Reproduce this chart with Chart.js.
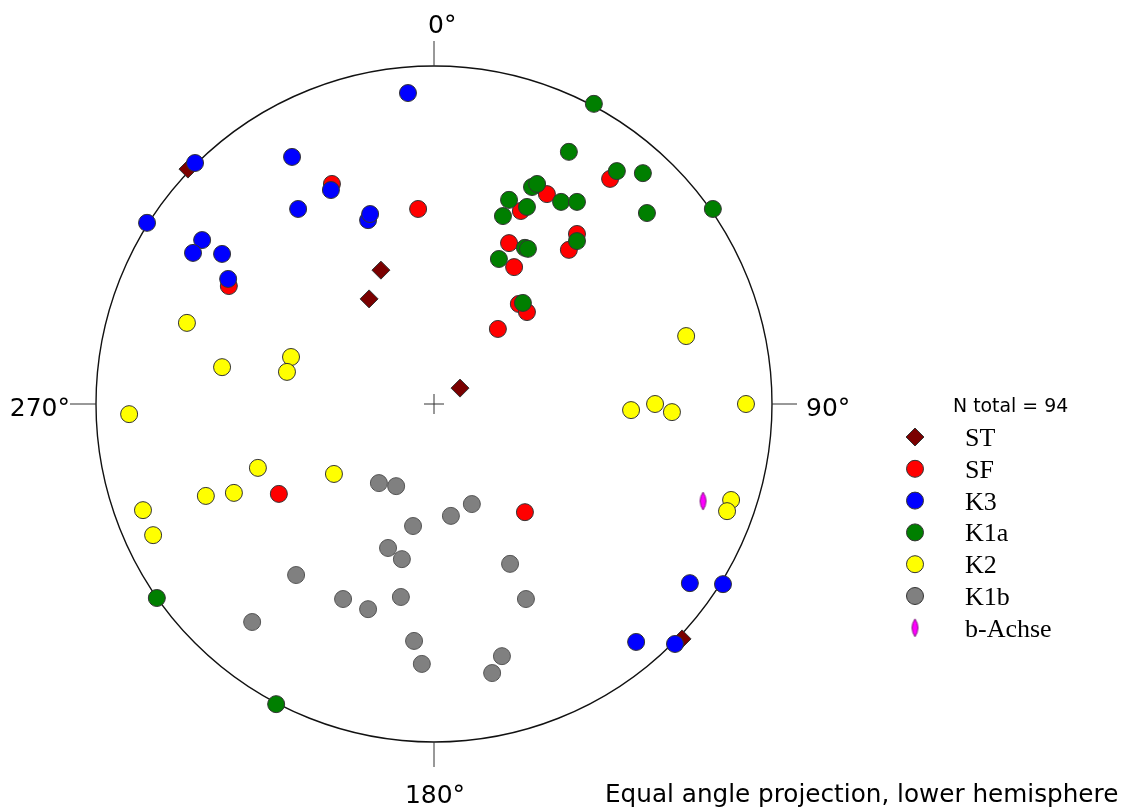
<!DOCTYPE html>
<html>
<head>
<meta charset="utf-8">
<script src="https://cdn.jsdelivr.net/npm/chart.js@4/dist/chart.umd.min.js"></script>
<style>
  html, body { margin: 0; padding: 0; background: #fff; }
  #wrap { width: 1132px; height: 808px; position: relative; }
</style>
</head>
<body>
<div id="wrap"><canvas id="net"></canvas></div>
<script>
// poles in unit-circle coordinates (primitive circle radius = 1, north up)
const seriesNames = ['ST', 'SF', 'K3', 'K1a', 'K2', 'K1b', 'b-Achse'];

const stPoints = [[-0.728, 0.695], [-0.157, 0.396], [-0.192, 0.311], [0.077, 0.047], [0.734, -0.695]];
const sfPoints = [
  [-0.302, 0.651], [-0.047, 0.577], [-0.607, 0.349], [0.521, 0.666], [0.334, 0.621],
  [0.257, 0.571], [0.423, 0.503], [0.399, 0.456], [0.222, 0.476], [0.237, 0.405],
  [0.251, 0.296], [0.275, 0.272], [0.189, 0.222], [-0.459, -0.266], [0.269, -0.320]
];
const k3Points = [
  [-0.077, 0.920], [-0.707, 0.713], [-0.849, 0.536], [-0.420, 0.731], [-0.305, 0.633],
  [-0.402, 0.577], [-0.195, 0.544], [-0.189, 0.562], [-0.686, 0.485], [-0.713, 0.447],
  [-0.627, 0.444], [-0.609, 0.370], [0.757, -0.530], [0.855, -0.533], [0.598, -0.704],
  [0.713, -0.710]
];
const k1aPoints = [
  [0.473, 0.888], [0.399, 0.746], [0.541, 0.689], [0.618, 0.683], [0.825, 0.577],
  [0.630, 0.565], [0.290, 0.642], [0.305, 0.651], [0.376, 0.598], [0.423, 0.598],
  [0.222, 0.604], [0.275, 0.583], [0.204, 0.556], [0.423, 0.482], [0.269, 0.462],
  [0.278, 0.459], [0.192, 0.429], [0.263, 0.299], [-0.820, -0.574], [-0.467, -0.888]
];
const k2Points = [
  [-0.731, 0.240], [-0.627, 0.109], [-0.423, 0.139], [-0.435, 0.095], [-0.902, -0.030],
  [-0.521, -0.189], [-0.296, -0.207], [-0.675, -0.272], [-0.592, -0.263], [-0.861, -0.314],
  [-0.831, -0.388], [0.746, 0.201], [0.583, -0.018], [0.654, 0.000], [0.704, -0.024],
  [0.923, 0.000], [0.879, -0.284], [0.867, -0.317]
];
const k1bPoints = [
  [-0.163, -0.234], [-0.112, -0.243], [-0.062, -0.361], [-0.136, -0.426], [-0.095, -0.459],
  [-0.408, -0.506], [-0.269, -0.577], [-0.098, -0.571], [0.050, -0.331], [0.112, -0.296],
  [0.225, -0.473], [0.272, -0.577], [-0.538, -0.645], [-0.195, -0.607], [-0.059, -0.701],
  [-0.036, -0.769], [0.201, -0.746], [0.172, -0.796]
];
const bAxisPoints = [[0.796, -0.287]];

const nTotal = 94;
const dirLabels = ['0°', '90°', '180°', '270°'];

const fills = ['#7a0000', '#ff0000', '#0000ff', '#007f00', '#ffff00', '#808080', '#ff00ff'];

// lens shaped marker for the b-axis
const lens = document.createElement('canvas');
lens.width = 11; lens.height = 20;
(function () {
  const c = lens.getContext('2d');
  c.beginPath();
  c.moveTo(5.5, 1);
  c.quadraticCurveTo(11.5, 10, 5.5, 19);
  c.quadraticCurveTo(-0.5, 10, 5.5, 1);
  c.fillStyle = '#ff00ff';
  c.fill();
  c.strokeStyle = '#600060';
  c.lineWidth = 0.8;
  c.stroke();
})();

const allPoints = [stPoints, sfPoints, k3Points, k1aPoints, k2Points, k1bPoints, bAxisPoints];
const styles = ['rectRot', 'circle', 'circle', 'circle', 'circle', 'circle', lens];
const radii = [9, 8.5, 8.5, 8.5, 8.5, 8.5, 9];
const drawOrder = [7, 6, 5, 4, 3, 2, 1];

function fitFont(ctx, text, width, family) {
  ctx.font = '20px ' + family;
  const fs = 20 * width / ctx.measureText(text).width;
  ctx.font = fs.toFixed(1) + 'px ' + family;
}

const stereonetFrame = {
  id: 'stereonetFrame',
  beforeDatasetsDraw(chart) {
    const { ctx, scales: { x, y } } = chart;
    const cx = x.getPixelForValue(0), cy = y.getPixelForValue(0);
    const r = x.getPixelForValue(1) - cx;
    ctx.save();
    ctx.strokeStyle = '#111';
    ctx.lineWidth = 1.4;
    ctx.beginPath();
    ctx.arc(cx, cy, r, 0, Math.PI * 2);
    ctx.stroke();
    ctx.lineWidth = 1;
    ctx.strokeStyle = '#333';
    ctx.beginPath();
    ctx.moveTo(cx, cy - r); ctx.lineTo(cx, cy - r - 25);
    ctx.moveTo(cx, cy + r); ctx.lineTo(cx, cy + r + 25);
    ctx.moveTo(cx - r, cy); ctx.lineTo(cx - r - 26, cy);
    ctx.moveTo(cx + r, cy); ctx.lineTo(cx + r + 25, cy);
    // centre cross
    ctx.moveTo(cx - 10, cy); ctx.lineTo(cx + 10, cy);
    ctx.moveTo(cx, cy - 10); ctx.lineTo(cx, cy + 10);
    ctx.stroke();

    ctx.fillStyle = '#000';
    ctx.font = '25px "DejaVu Sans"';
    ctx.textBaseline = 'alphabetic';
    ctx.textAlign = 'left';
    ctx.fillText(dirLabels[0], cx - 6, cy - r - 33);
    ctx.fillText(dirLabels[1], cx + r + 34, cy + 12);
    ctx.textAlign = 'center';
    ctx.fillText(dirLabels[2], cx + 1, cy + r + 61);
    ctx.textAlign = 'right';
    ctx.fillText(dirLabels[3], cx - r - 26, cy + 12);
    ctx.restore();
  },
  afterDraw(chart) {
    const { ctx } = chart;
    ctx.save();
    ctx.fillStyle = '#000';
    ctx.textBaseline = 'alphabetic';
    ctx.textAlign = 'left';

    const nText = 'N total = ' + nTotal;
    fitFont(ctx, nText, 115, '"DejaVu Sans"');
    ctx.fillText(nText, 953, 412);

    const mx = 915, lx = 965, y0 = 437, step = 31.8;
    seriesNames.forEach((name, i) => {
      const yy = y0 + i * step;
      ctx.fillStyle = fills[i];
      ctx.strokeStyle = '#333';
      ctx.lineWidth = 1;
      if (i === 0) {
        ctx.beginPath();
        ctx.moveTo(mx, yy - 9); ctx.lineTo(mx + 9, yy); ctx.lineTo(mx, yy + 9); ctx.lineTo(mx - 9, yy);
        ctx.closePath();
        ctx.fill(); ctx.stroke();
      } else if (i === 6) {
        ctx.drawImage(lens, mx - 5.5, yy - 10);
      } else {
        ctx.beginPath();
        ctx.arc(mx, yy, 8.5, 0, Math.PI * 2);
        ctx.fill(); ctx.stroke();
      }
      ctx.fillStyle = '#000';
      ctx.font = '26px "Liberation Serif"';
      ctx.fillText(name, lx, yy + 9);
    });

    const caption = 'Equal angle projection, lower hemisphere';
    fitFont(ctx, caption, 513, '"DejaVu Sans"');
    ctx.fillText(caption, 605, 802);
    ctx.restore();
  }
};

const datasets = seriesNames.map((name, i) => ({
  label: name,
  data: allPoints[i].map(([px, py]) => ({ x: px, y: py })),
  pointStyle: styles[i],
  pointRadius: radii[i],
  pointHoverRadius: radii[i],
  backgroundColor: fills[i],
  borderColor: i === 5 ? '#555' : '#333',
  borderWidth: 1,
  order: drawOrder[i],
  clip: false,
}));

new Chart(document.getElementById('net'), {
  type: 'scatter',
  data: { datasets },
  options: {
    responsive: true,
    maintainAspectRatio: false,
    animation: false,
    layout: { padding: { left: 96, right: 360, top: 66, bottom: 66 } },
    scales: {
      x: { type: 'linear', min: -1, max: 1, display: false },
      y: { type: 'linear', min: -1, max: 1, display: false },
    },
    plugins: {
      legend: { display: false },
      tooltip: { enabled: false },
    },
  },
  plugins: [stereonetFrame],
});
</script>
</body>
</html>
